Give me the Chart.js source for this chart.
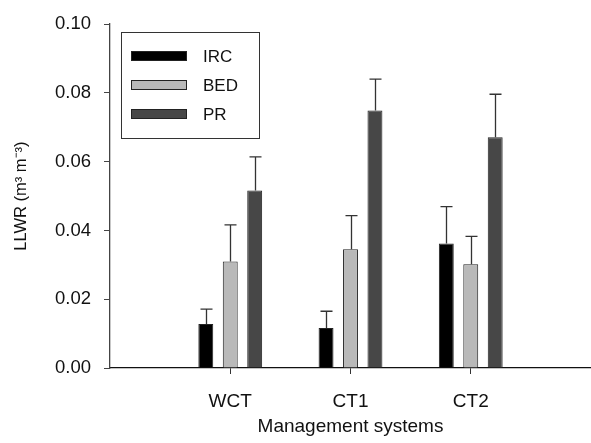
<!DOCTYPE html>
<html>
<head>
<meta charset="utf-8">
<script src="https://cdn.jsdelivr.net/npm/chart.js@4/dist/chart.umd.min.js"></script>
<style>
  body { margin: 0; background: #fff; }
  canvas { display: block; }
</style>
</head>
<body>
<canvas id="llwrChart" width="591" height="443"></canvas>
<script>
// categories (empty slots at both ends keep the 0..4 axis span of the original)
const categories = ["", "WCT", "CT1", "CT2", ""];
const seriesNames = ["IRC", "BED", "PR"];
const ircValues = [null, 0.0128, 0.0116, 0.0362, null];
const bedValues = [null, 0.0310, 0.0345, 0.0302, null];
const prValues = [null, 0.0516, 0.0749, 0.0671, null];
const ircErrors = [null, 0.0043, 0.0049, 0.0107, null];
const bedErrors = [null, 0.0106, 0.0098, 0.0081, null];
const prErrors = [null, 0.0098, 0.0091, 0.0125, null];
const yTicks = [0, 0.02, 0.04, 0.06, 0.08, 0.10];

const FONT = "'Liberation Sans', Arial, sans-serif";

// upward error bars with a small cap
const errorBars = {
  id: "errorBars",
  afterDatasetsDraw(chart) {
    const ctx = chart.ctx;
    const yScale = chart.scales.y;
    ctx.save();
    ctx.strokeStyle = "#333";
    ctx.lineWidth = 1.3;
    chart.data.datasets.forEach(function (ds, di) {
      const meta = chart.getDatasetMeta(di);
      meta.data.forEach(function (bar, i) {
        const v = ds.data[i];
        const e = ds.errors[i];
        if (v == null || e == null) return;
        const yTop = yScale.getPixelForValue(v + e);
        const x = Math.round(bar.x) + 0.5;
        ctx.beginPath();
        ctx.moveTo(x, bar.y);
        ctx.lineTo(x, yTop);
        ctx.moveTo(x - 6, yTop);
        ctx.lineTo(x + 6, yTop);
        ctx.stroke();
      });
    });
    ctx.restore();
  },
};

// boxed legend like the original figure
const boxLegend = {
  id: "boxLegend",
  afterDraw(chart) {
    const ctx = chart.ctx;
    ctx.save();
    ctx.strokeStyle = "#333";
    ctx.lineWidth = 1;
    ctx.strokeRect(121.5, 32.5, 138, 106);
    ctx.font = "17px " + FONT;
    ctx.textBaseline = "middle";
    chart.data.datasets.forEach(function (ds, i) {
      const yc = 56 + i * 29;
      ctx.fillStyle = ds.backgroundColor;
      ctx.fillRect(131, yc - 5, 56, 10);
      ctx.strokeStyle = "#222";
      ctx.strokeRect(131.5, yc - 4.5, 55, 9);
      ctx.fillStyle = "#111";
      ctx.fillText(ds.label, 203, yc + 1);
    });
    ctx.restore();
  },
};

const colors = ["#000000", "#b9b9b9", "#474747"];
const values = [ircValues, bedValues, prValues];
const errors = [ircErrors, bedErrors, prErrors];

new Chart(document.getElementById("llwrChart").getContext("2d"), {
  type: "bar",
  data: {
    labels: categories,
    datasets: seriesNames.map(function (name, i) {
      return {
        label: name,
        data: values[i],
        errors: errors[i],
        backgroundColor: colors[i],
        borderColor: "#222",
        borderWidth: 1,
        borderSkipped: "bottom",
        categoryPercentage: 0.61,
        barPercentage: 0.61,
      };
    }),
  },
  options: {
    responsive: false,
    animation: false,
    layout: { padding: { top: 20, right: 0, bottom: 0, left: 0 } },
    plugins: {
      legend: { display: false },
      tooltip: { enabled: false },
    },
    scales: {
      x: {
        offset: false,
        afterFit: function (scale) { scale.height = 75; },
        border: { color: "#111", width: 1.3 },
        grid: {
          offset: false,
          drawOnChartArea: false,
          drawTicks: true,
          tickLength: 6,
          tickColor: function (c) {
            return categories[c.index] ? "#333" : "rgba(0,0,0,0)";
          },
        },
        ticks: {
          padding: 0,
          color: "#111",
          maxRotation: 0,
          autoSkip: false,
          font: { family: FONT, size: 19, lineHeight: 2.92 },
        },
        title: {
          display: true,
          text: "Management systems",
          color: "#111",
          font: { family: FONT, size: 19 },
          padding: { top: 4, bottom: 5 },
        },
      },
      y: {
        min: 0,
        max: 0.1,
        afterFit: function (scale) { scale.width = 110; },
        afterBuildTicks: function (scale) {
          scale.ticks = yTicks.map(function (v) { return { value: v }; });
        },
        border: { color: "#444", width: 1.3 },
        grid: {
          drawOnChartArea: false,
          drawTicks: true,
          tickLength: 6,
          tickColor: "#444",
        },
        ticks: {
          padding: 13,
          color: "#111",
          font: { family: FONT, size: 18.5 },
          callback: function (v) { return Number(v).toFixed(2); },
        },
        title: {
          display: true,
          text: "LLWR (m³ m⁻³)",
          color: "#111",
          font: { family: FONT, size: 16.5 },
          padding: { top: 12, bottom: 0 },
        },
      },
    },
  },
  plugins: [errorBars, boxLegend],
});
</script>
</body>
</html>
